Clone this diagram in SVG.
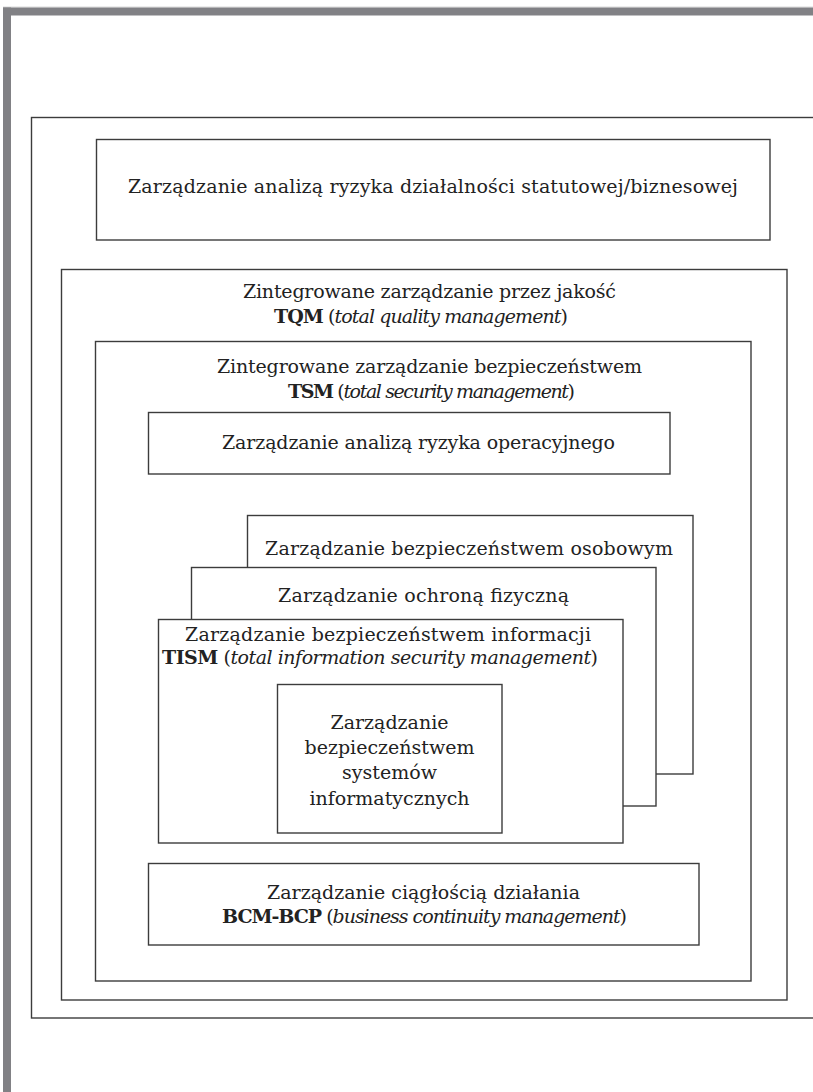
<svg xmlns="http://www.w3.org/2000/svg" width="813" height="1092" viewBox="0 0 813 1092">
  <style>
    .box { fill: #ffffff; stroke: #3c3c3c; stroke-width: 1.4; }
    .t { font-family: "DejaVu Serif", "Liberation Serif", serif; font-size: 19px; fill: #222222; }
    .b { font-weight: bold; }
    .i { font-style: italic; }
  </style>
  <rect x="0" y="0" width="813" height="1092" fill="#ffffff"/>
  <g id="frame">
    <line x1="3" y1="7" x2="813" y2="7" stroke="#d8d8d8" stroke-width="1"/>
    <rect x="3" y="7.5" width="810" height="8" fill="#818185"/>
    <rect x="3" y="7.5" width="8" height="1084.5" fill="#818185"/>
  </g>
  <g id="outer">
    <rect class="box" x="31.5" y="117.5" width="800" height="900.5"/>
  </g>
  <g id="ryzyko-biznesowe">
    <rect class="box" x="96.5" y="139.5" width="673.5" height="100.5"/>
    <text class="t" x="128" y="193" textLength="610" lengthAdjust="spacing">Zarządzanie analizą ryzyka działalności statutowej/biznesowej</text>
  </g>
  <g id="tqm">
    <rect class="box" x="61.5" y="269.5" width="725.5" height="730.5"/>
    <text class="t" x="243" y="298" textLength="373" lengthAdjust="spacing">Zintegrowane zarządzanie przez jakość</text>
    <text class="t" x="274" y="323" textLength="294" lengthAdjust="spacing"><tspan class="b">TQM</tspan> (<tspan class="i">total quality management</tspan>)</text>
  </g>
  <g id="tsm">
    <rect class="box" x="95.5" y="341.5" width="655.5" height="639.5"/>
    <text class="t" x="217" y="373" textLength="425" lengthAdjust="spacing">Zintegrowane zarządzanie bezpieczeństwem</text>
    <text class="t" x="288" y="398" textLength="287" lengthAdjust="spacing"><tspan class="b">TSM</tspan> (<tspan class="i">total security management</tspan>)</text>
  </g>
  <g id="ryzyko-operacyjne">
    <rect class="box" x="148.5" y="412.5" width="521.5" height="61.5"/>
    <text class="t" x="222" y="449" textLength="393" lengthAdjust="spacing">Zarządzanie analizą ryzyka operacyjnego</text>
  </g>
  <g id="osobowe">
    <rect class="box" x="247.5" y="515.5" width="445.5" height="258.5"/>
    <text class="t" x="265" y="555" textLength="408" lengthAdjust="spacing">Zarządzanie bezpieczeństwem osobowym</text>
  </g>
  <g id="fizyczna">
    <rect class="box" x="191.5" y="567.5" width="464.5" height="238.5"/>
    <text class="t" x="278" y="602" textLength="291" lengthAdjust="spacing">Zarządzanie ochroną fizyczną</text>
  </g>
  <g id="tism">
    <rect class="box" x="158.5" y="619.5" width="464.5" height="223.5"/>
    <text class="t" x="185" y="641" textLength="406" lengthAdjust="spacing">Zarządzanie bezpieczeństwem informacji</text>
    <text class="t" x="162" y="664" textLength="436" lengthAdjust="spacing"><tspan class="b">TISM</tspan> (<tspan class="i">total information security management</tspan>)</text>
  </g>
  <g id="systemy">
    <rect class="box" x="277.5" y="684.5" width="224.5" height="148.5"/>
    <text class="t" x="389.5" y="729" text-anchor="middle">Zarządzanie</text>
    <text class="t" x="389.5" y="754" text-anchor="middle">bezpieczeństwem</text>
    <text class="t" x="389.5" y="779" text-anchor="middle">systemów</text>
    <text class="t" x="389.5" y="805" text-anchor="middle">informatycznych</text>
  </g>
  <g id="bcm">
    <rect class="box" x="148.5" y="863.5" width="550.5" height="81.5"/>
    <text class="t" x="267" y="899" textLength="313" lengthAdjust="spacing">Zarządzanie ciągłością działania</text>
    <text class="t" x="222" y="923" textLength="405" lengthAdjust="spacing"><tspan class="b">BCM-BCP</tspan> (<tspan class="i">business continuity management</tspan>)</text>
  </g>
  <g id="connectors"></g>
</svg>
